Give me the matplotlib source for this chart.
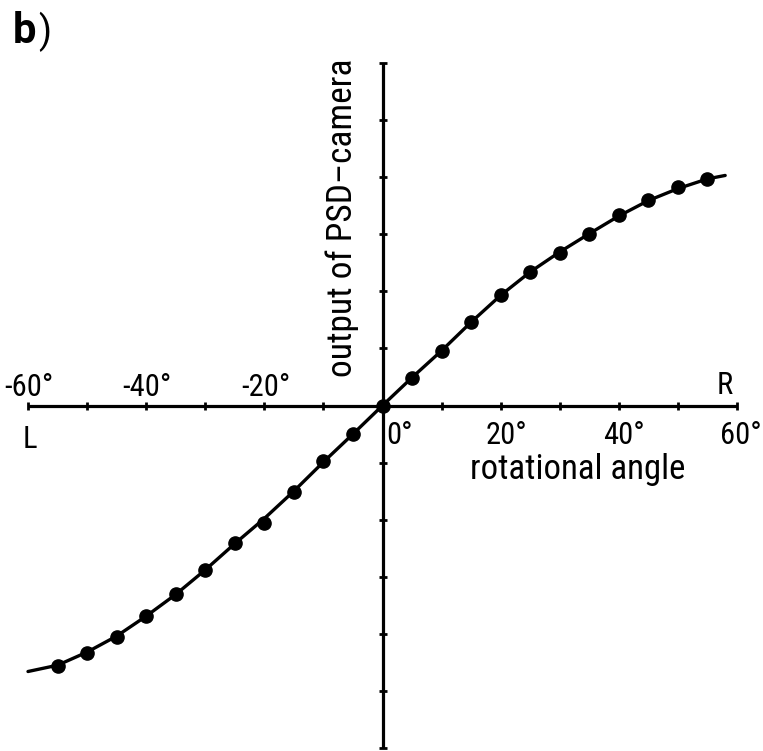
import matplotlib
matplotlib.use("Agg")
import matplotlib.pyplot as plt

plt.rcParams['font.family'] = ['Roboto Condensed', 'DejaVu Sans']

# measured calibration points: rotational angle (deg) vs PSD-camera output (arb. units)
angle_pts = [-55, -50, -45, -40, -35, -30, -25, -20, -15, -10, -5, 0,
             5, 10, 15, 20, 25, 30, 35, 40, 45, 50, 55]
output_pts = [-4.56, -4.33, -4.05, -3.69, -3.31, -2.88, -2.41, -2.06, -1.52, -0.97, -0.50, 0.0,
              0.49, 0.95, 1.46, 1.93, 2.33, 2.68, 3.00, 3.33, 3.60, 3.82, 3.97]

# fitted response curve
curve_angle = [-60, -55, -50, -45, -40, -35, -30, -25, -20, -15, -10, -5, 0,
               5, 10, 15, 20, 25, 30, 35, 40, 45, 50, 55, 58]
curve_output = [-4.66, -4.55, -4.32, -4.04, -3.69, -3.31, -2.88, -2.42, -1.98, -1.50, -0.99, -0.50, 0.0,
                0.49, 0.96, 1.46, 1.93, 2.34, 2.69, 3.01, 3.32, 3.59, 3.80, 3.97, 4.03]

x_ticks = [-60, -50, -40, -30, -20, -10, 0, 10, 20, 30, 40, 50, 60]
y_ticks = [-6, -5, -4, -3, -2, -1, 1, 2, 3, 4, 5, 6]
neg_labels = {-60: "-60°", -40: "-40°", -20: "-20°"}
pos_labels = {20: "20°", 40: "40°", 60: "60°"}

fig = plt.figure(figsize=(7.63, 7.51), dpi=100)
ax = fig.add_axes([28 / 763, 3 / 751, 709 / 763, 685 / 751])
ax.set_xlim(-60, 60)
ax.set_ylim(-6, 6)

for s in ("top", "right"):
    ax.spines[s].set_visible(False)
for s in ("left", "bottom"):
    ax.spines[s].set_position(("data", 0))
    ax.spines[s].set_linewidth(2.3)
    ax.spines[s].set_capstyle("butt")

ax.set_xticks(x_ticks)
ax.set_yticks(y_ticks)
ax.tick_params(axis="both", direction="inout", length=6, width=2.0, labelbottom=False, labelleft=False)

ax.plot(curve_angle, curve_output, color="black", lw=2.4, solid_capstyle="round",
        solid_joinstyle="round", clip_on=False, zorder=3)
ax.plot(angle_pts, output_pts, "o", color="black", ms=9.5, clip_on=False, zorder=4)

fs = 22
for v, t in neg_labels.items():
    ax.text(v + 0.2, 0.17, t, ha="center", va="baseline", fontsize=fs)
for v, t in pos_labels.items():
    ax.text(v + (0.6 if v == 60 else 0.9), -0.67, t, ha="center", va="baseline", fontsize=fs)
ax.text(0.6, -0.67, "0°", ha="left", va="baseline", fontsize=fs)
ax.text(-59.6, -0.74, "L", ha="center", va="baseline", fontsize=fs)
ax.text(57.9, 0.2, "R", ha="center", va="baseline", fontsize=fs)
ax.text(33.0, -1.29, "rotational angle", ha="center", va="baseline", fontsize=25)
ax.text(-6.8, 3.29, "output of PSD–camera", ha="center", va="center", rotation=90, fontsize=25.5)

fig.text(13 / 763, 1 - 43 / 751, "b", fontsize=30, fontweight="bold", family="Roboto",
         ha="left", va="baseline")
fig.text(38 / 763, 1 - 43 / 751, ")", fontsize=27, family="Roboto", ha="left", va="baseline")

fig.savefig("out.png", dpi=100)
